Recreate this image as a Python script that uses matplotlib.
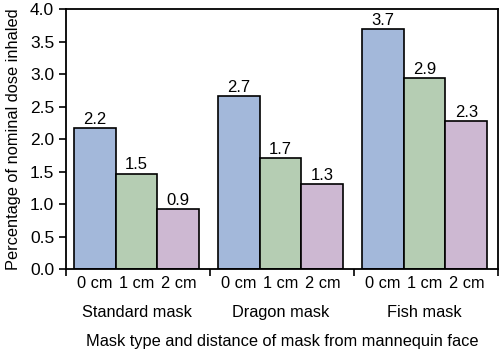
import matplotlib
matplotlib.use("Agg")
import matplotlib.pyplot as plt
import matplotlib.transforms as mtransforms
import numpy as np

plt.rcParams['font.family'] = ['Liberation Sans', 'DejaVu Sans']

masks = ["Standard mask", "Dragon mask", "Fish mask"]
distances = ["0 cm", "1 cm", "2 cm"]
# values per distance, across masks
dose_0cm = [2.17, 2.66, 3.69]
dose_1cm = [1.47, 1.71, 2.94]
dose_2cm = [0.92, 1.31, 2.28]
colors = ["#a3b8da", "#b5cdb3", "#cdb8d2"]

fig = plt.figure(figsize=(5, 3.5), dpi=100)
ax = fig.add_axes([0.132, 0.231, 0.864, 0.743])

width = 0.29
groups = np.arange(len(masks))
centers = []
for k, vals in enumerate([dose_0cm, dose_1cm, dose_2cm]):
    x = groups + 0.49 + (k - 1) * width
    centers.extend(x)
    bars = ax.bar(x, vals, width, color=colors[k], edgecolor="black", linewidth=1.2)
    ax.bar_label(bars, fmt="%.1f", padding=1, fontsize=12)

ax.set_xlim(0, 3)
ax.set_ylim(0, 4)
ax.set_yticks(np.arange(0, 4.01, 0.5))
ax.set_yticklabels(["%.1f" % v for v in np.arange(0, 4.01, 0.5)])

# group boundaries as major ticks, distance labels as minor ticks
ax.set_xticks([0, 1, 2, 3])
ax.set_xticklabels([])
ax.set_xticks(sorted(centers), minor=True)
ax.set_xticklabels(distances * 3, minor=True)
ax.tick_params(axis="x", which="minor", length=0, pad=5, labelsize=11.8)
ax.tick_params(axis="x", which="major", length=5, width=1.2)
ax.tick_params(axis="y", length=5, width=1.2, labelsize=12.5)

trans = mtransforms.blended_transform_factory(ax.transData, ax.transAxes)
for g, name in enumerate(masks):
    ax.text(g + 0.49, -0.167, name, transform=trans, ha="center", va="center", fontsize=11.8)

ax.set_xlabel("Mask type and distance of mask from mannequin face", fontsize=11.8, labelpad=31)
ax.set_ylabel("Percentage of nominal dose inhaled", fontsize=11.8, labelpad=6)

for s in ax.spines.values():
    s.set_linewidth(1.3)

fig.savefig("out.png", dpi=100)
